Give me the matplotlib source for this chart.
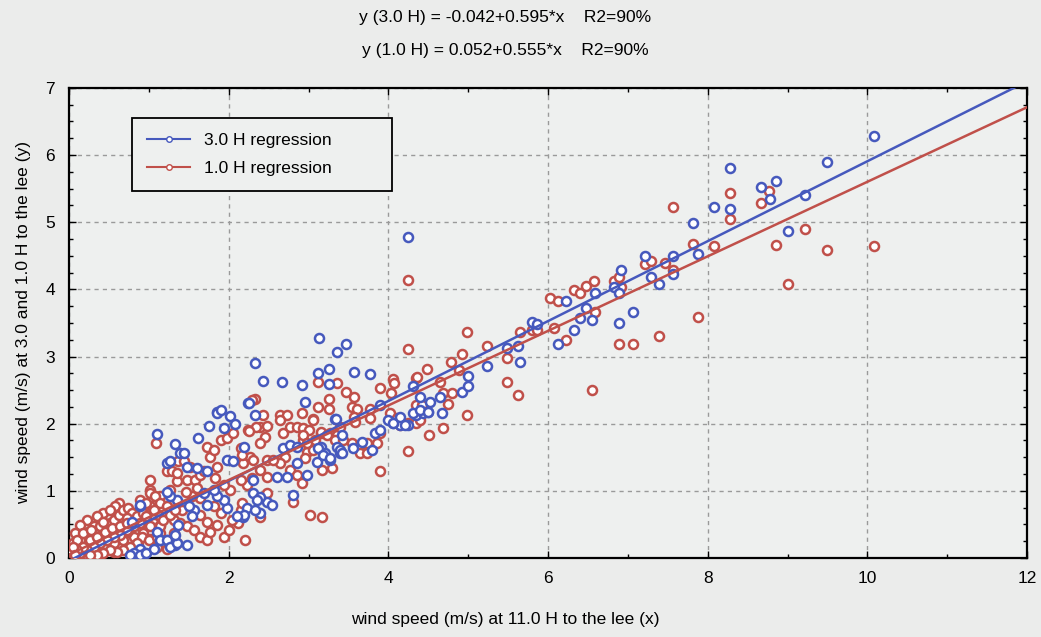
import numpy as np
import matplotlib

matplotlib.use('Agg')

import matplotlib.pyplot as plt
from matplotlib.lines import Line2D
from matplotlib.ticker import MultipleLocator

plt.rcParams['font.family'] = ['Liberation Sans Narrow', 'Liberation Sans', 'DejaVu Sans']

# 3.0 H to the lee (blue)
x3 = [7.82, 7.88, 8.08, 8.28, 8.28, 8.67, 8.78, 8.86, 9.01, 9.22, 9.49, 10.08,
      5.24, 5.49, 5.63, 5.65, 5.80, 5.86, 6.13, 6.22, 6.32, 6.40, 6.47, 6.55,
      6.59, 6.83, 6.89, 6.92, 6.89, 7.07, 7.21, 7.29, 7.39, 7.57, 7.57,
      4.24, 3.13, 3.36, 3.47, 3.26, 3.12, 3.57, 3.77, 2.92, 3.26, 2.96, 3.90,
      3.33, 4.31, 4.40, 4.52, 4.34, 4.44, 4.50, 4.67, 4.65, 4.92, 5.00, 5.00,
      4.15, 4.24, 4.06,
      2.33, 2.43, 2.67, 2.24, 1.85, 2.68, 2.77, 2.86, 2.98, 2.81, 2.86, 2.73,
      2.61, 2.48, 2.54, 2.31, 2.39, 2.23, 2.18, 2.39, 3.15, 3.21, 3.27, 3.40,
      3.36, 3.42, 3.11,
      3.12, 3.18, 3.27, 3.40, 3.42, 3.56, 3.67, 3.80, 3.83, 3.90, 4.00, 4.06,
      4.15, 4.21, 4.31, 4.40, 4.50, 3.35,
      1.10, 1.33, 1.39, 1.44, 1.23, 1.27, 1.62, 1.75, 1.85, 1.90, 2.02, 2.08,
      1.94, 2.33, 2.25, 1.73, 1.60, 1.48, 1.98, 2.06, 2.19, 2.31, 2.36, 2.33,
      2.19, 2.10, 1.98, 1.94, 1.85, 1.73, 1.56, 1.50, 1.35, 1.27, 0.89, 1.14,
      1.23, 1.48, 1.33, 0.89, 0.95, 0.81, 1.54, 1.69, 1.81,
      0.89, 0.79, 1.10, 1.14, 1.23, 1.27, 1.35, 0.77, 0.89, 0.97, 1.06, 1.33,
      1.37, 1.23]
y3 = [4.99, 4.53, 5.23, 5.80, 5.20, 5.53, 5.35, 5.62, 4.87, 5.41, 5.89, 6.29,
      2.86, 3.13, 3.16, 2.92, 3.52, 3.49, 3.19, 3.82, 3.40, 3.58, 3.73, 3.55,
      3.95, 4.04, 3.95, 4.29, 3.50, 3.67, 4.49, 4.19, 4.08, 4.49, 4.23,
      4.78, 3.28, 3.07, 3.19, 2.82, 2.76, 2.77, 2.74, 2.58, 2.59, 2.32, 2.28,
      2.07, 2.56, 2.40, 2.33, 2.13, 2.16, 2.18, 2.16, 2.40, 2.47, 2.71, 2.56,
      1.98, 1.98, 2.01,
      2.91, 2.64, 2.62, 2.31, 2.18, 1.64, 1.68, 1.65, 1.24, 0.94, 1.42, 1.21,
      1.21, 0.83, 0.79, 0.97, 0.91, 0.75, 0.61, 0.67, 1.65, 1.56, 1.46, 1.56,
      1.65, 1.83, 1.43,
      1.64, 1.54, 1.49, 1.61, 1.56, 1.64, 1.73, 1.61, 1.86, 1.91, 2.06, 2.01,
      2.10, 1.98, 2.16, 2.21, 2.18, 2.07,
      1.85, 1.70, 1.56, 1.56, 1.42, 1.44, 1.79, 1.96, 2.16, 2.20, 2.11, 1.99,
      1.94, 2.13, 2.31, 1.29, 1.34, 1.36, 1.46, 1.44, 1.66, 1.16, 0.87, 0.72,
      0.64, 0.62, 0.74, 0.87, 0.92, 0.79, 0.72, 0.77, 0.87, 0.92, 0.77, 0.27,
      0.27, 0.19, 0.19, 0.14, 0.07, 0.07, 0.62, 0.97, 1.01,
      0.79, 0.54, 0.39, 0.27, 0.27, 0.17, 0.22, 0.04, 0.04, 0.07, 0.14, 0.34,
      0.49, 0.99]

# 1.0 H to the lee (red)
x1 = [7.82, 7.88, 8.08, 8.28, 8.28, 8.67, 8.77, 8.86, 9.01, 9.22, 9.49, 10.08,
      5.23, 5.49, 5.49, 5.63, 5.65, 5.80, 5.86, 6.03, 6.13, 6.07, 6.22, 6.32,
      6.40, 6.47, 6.57, 6.59, 6.55, 6.83, 6.89, 6.92, 6.89, 7.07, 7.21, 7.29,
      7.39, 7.46, 7.57, 7.57,
      4.25, 4.25, 4.99, 4.92, 4.79, 4.49, 4.89, 4.34, 4.36, 4.06, 4.07, 3.90,
      4.03, 4.65, 4.69, 4.80, 4.75, 4.99, 4.69, 4.51, 4.24, 3.90, 3.36, 3.47,
      3.57, 3.26, 3.12, 3.12, 3.26, 3.55, 3.61, 3.77, 2.92, 3.06, 3.57,
      2.33, 2.29, 2.43, 2.64, 2.73, 2.64, 2.39, 2.48, 2.24, 2.34, 2.46, 2.39,
      2.68, 2.77, 2.86, 2.93, 3.06, 3.15, 3.27, 3.36, 2.93, 3.08, 2.98, 2.71,
      2.64, 2.48, 2.56, 2.27, 2.18, 2.39, 2.48, 2.29, 2.77, 2.86, 2.92, 2.81,
      3.02, 3.17, 2.48, 2.39, 2.12,
      3.00, 2.93, 2.98, 3.15, 3.23, 3.06, 2.96, 3.17, 3.30, 3.33, 3.43, 3.55,
      3.65, 3.73, 3.86, 3.65, 3.73, 3.40, 3.58, 3.77, 3.90, 4.02, 4.11, 4.15,
      4.24, 4.34, 4.40, 4.34, 4.42,
      1.09, 1.23, 1.29, 1.37, 1.44, 1.52, 1.48, 1.58, 1.64, 1.69, 1.35, 1.27,
      1.14, 1.02, 1.10, 1.02, 0.89, 0.72, 0.62, 0.56, 0.43, 0.35, 0.22, 0.14,
      0.08, 0.05, 0.08, 0.18, 0.26, 0.35, 0.43, 0.51, 0.62, 0.72, 0.81, 0.89,
      0.97, 1.06, 1.14, 1.23, 1.31, 1.39, 1.48, 1.56, 1.64, 1.73, 1.77, 1.94,
      2.00, 2.04, 2.15, 2.17, 2.23, 2.15, 2.02, 1.94, 1.83, 1.85, 1.77, 1.73,
      1.81, 1.90, 1.98, 2.06, 2.15, 2.17, 2.25, 2.31, 2.21, 1.14, 0.93, 0.81,
      0.68, 0.56, 0.43, 0.31, 0.39, 0.56, 0.72, 0.87, 1.02, 1.14, 1.31, 1.35,
      1.23, 1.10, 0.64, 0.72, 0.51, 0.24, 0.31, 0.14, 0.03, 0.12, 0.22, 0.85,
      0.95, 1.18, 1.41, 1.64, 1.73, 1.85, 1.90, 1.81, 1.64, 1.54, 1.46, 1.60,
      1.35, 1.02,
      0.10, 0.18, 0.28, 0.39, 0.43, 0.56, 0.62, 0.58, 0.51, 0.68, 0.74, 0.79,
      0.72, 0.85, 0.93, 0.89, 0.81, 0.72, 0.64, 0.56, 0.47, 0.39, 0.31, 0.22,
      0.14, 0.26, 0.35, 0.45, 0.54, 0.64, 0.72, 0.97, 1.02, 1.08, 1.14, 1.23,
      1.06, 0.97, 0.91, 1.00, 1.10, 1.14, 1.18, 1.27, 1.33, 1.02, 0.85, 0.77,
      0.68, 0.60, 0.51, 0.43, 0.35, 0.26, 0.18, 0.10, 0.05, 0.08]
y1 = [4.68, 3.59, 4.64, 5.44, 5.05, 5.29, 5.47, 4.66, 4.08, 4.90, 4.58, 4.64,
      3.16, 2.98, 2.62, 2.42, 3.37, 3.40, 3.40, 3.87, 3.82, 3.43, 3.25, 3.99,
      3.95, 4.05, 4.13, 3.67, 2.50, 4.13, 4.19, 4.04, 3.19, 3.19, 4.38, 4.43,
      3.31, 4.40, 4.29, 5.23,
      4.14, 3.11, 3.37, 3.04, 2.92, 2.82, 2.80, 2.68, 2.70, 2.67, 2.61, 2.53,
      2.46, 2.62, 2.46, 2.46, 2.29, 2.13, 1.94, 1.83, 1.59, 1.30, 2.61, 2.47,
      2.40, 2.37, 2.62, 2.25, 2.22, 2.25, 2.22, 2.22, 2.16, 2.07, 2.10,
      2.37, 2.35, 2.13, 2.13, 2.13, 2.06, 1.95, 1.97, 1.91, 1.95, 1.80, 1.71,
      1.86, 1.95, 1.95, 1.94, 2.06, 1.86, 1.86, 1.83, 1.76, 1.76, 1.58, 1.51,
      1.42, 1.46, 1.46, 1.51, 1.42, 1.31, 1.21, 1.19, 1.31, 1.24, 1.12, 0.83,
      0.64, 0.61, 0.97, 0.61, 0.52,
      1.91, 1.83, 1.71, 1.88, 1.83, 1.61, 1.49, 1.31, 1.34, 1.76, 1.76, 1.71,
      1.68, 1.71, 1.71, 1.56, 1.56, 1.95, 2.03, 2.09, 1.86, 2.16, 2.09, 1.98,
      2.01, 2.01, 2.06, 2.28, 2.28,
      1.72, 1.30, 1.30, 1.44, 1.45, 1.36, 1.16, 1.16, 1.24, 1.29, 1.14, 1.01,
      0.92, 1.01, 0.82, 0.77, 0.87, 0.72, 0.82, 0.72, 0.67, 0.62, 0.57, 0.49,
      0.37, 0.22, 0.09, 0.14, 0.22, 0.32, 0.42, 0.52, 0.59, 0.59, 0.52, 0.47,
      0.57, 0.52, 0.62, 0.64, 0.57, 0.52, 0.47, 0.42, 0.32, 0.27, 0.39, 0.32,
      0.42, 0.57, 0.72, 0.82, 1.09, 1.16, 1.01, 1.09, 1.19, 1.36, 1.51, 1.66,
      1.61, 1.76, 1.79, 1.86, 1.64, 1.54, 1.89, 1.46, 0.27, 0.49, 0.37, 0.32,
      0.27, 0.22, 0.27, 0.14, 0.07, 0.09, 0.14, 0.22, 0.29, 0.37, 0.37, 0.22,
      0.14, 0.17, 0.42, 0.39, 0.37, 0.39, 0.47, 0.27, 0.09, 0.04, 0.04, 0.69,
      0.69, 0.74, 0.72, 0.64, 0.54, 0.49, 0.67, 0.77, 0.89, 0.92, 0.99, 1.04,
      1.26, 1.16,
      0.27, 0.37, 0.42, 0.47, 0.54, 0.57, 0.64, 0.77, 0.72, 0.72, 0.74, 0.67,
      0.59, 0.62, 0.67, 0.52, 0.47, 0.42, 0.34, 0.32, 0.27, 0.22, 0.17, 0.12,
      0.07, 0.27, 0.32, 0.39, 0.44, 0.47, 0.52, 0.82, 0.97, 0.92, 0.82, 0.77,
      0.72, 0.62, 0.32, 0.27, 0.32, 0.47, 0.57, 0.64, 0.72, 0.47, 0.22, 0.17,
      0.12, 0.09, 0.12, 0.07, 0.04, 0.04, 0.17, 0.12, 0.17, 0.04]

# regression coefficients (intercept, slope)
fit3 = (-0.042, 0.595)
fit1 = (0.052, 0.555)

blue = '#4659bd'
red = '#c0504a'
bg = '#ebeceb'

fig = plt.figure(figsize=(10.41, 6.37), dpi=100, facecolor=bg)
ax = fig.add_axes([0.0663, 0.124, 0.9203, 0.738], facecolor='#eef0ef')

ax.plot(x1, y1, 'o', ms=6.5, mfc='white', mec=red, mew=1.8, zorder=3)
ax.plot(x3, y3, 'o', ms=6.5, mfc='white', mec=blue, mew=1.8, zorder=3)

xx = np.array([0, 12])
ax.plot(xx, fit3[0] + fit3[1] * xx, color=blue, lw=1.8, zorder=4)
ax.plot(xx, fit1[0] + fit1[1] * xx, color=red, lw=1.8, zorder=4)

ax.set_xlim(0, 12)
ax.set_ylim(0, 7)
ax.xaxis.set_major_locator(MultipleLocator(2))
ax.xaxis.set_minor_locator(MultipleLocator(1))
ax.yaxis.set_major_locator(MultipleLocator(1))
ax.yaxis.set_minor_locator(MultipleLocator(0.25))
ax.tick_params(which='both', direction='in', top=True, right=True, labelsize=12.5)
ax.tick_params(axis='x', pad=9)
ax.tick_params(axis='y', pad=10)
ax.tick_params(which='major', length=5, width=1)
ax.tick_params(which='minor', length=3, width=1)
ax.grid(True, which='major', color='#9a9a9a', linestyle=(0, (3, 3)), lw=1)
for s in ax.spines.values():
    s.set_linewidth(1.6)

ax.set_xlabel('wind speed (m/s) at 11.0 H to the lee (x)', fontsize=12.5)
ax.set_ylabel('wind speed (m/s) at 3.0 and 1.0 H to the lee (y)', fontsize=12.5)
ax.xaxis.set_label_coords(0.455, -0.115)
ax.yaxis.set_label_coords(-0.04, 0.5)

fig.text(0.485, 0.973, 'y (3.0 H) = -0.042+0.595*x    R2=90%', ha='center', va='center', fontsize=12.5)
fig.text(0.485, 0.921, 'y (1.0 H) = 0.052+0.555*x    R2=90%', ha='center', va='center', fontsize=12.5)

handles = [Line2D([], [], color=blue, lw=1.5, marker='o', ms=4, mfc='white', mec=blue),
           Line2D([], [], color=red, lw=1.5, marker='o', ms=4, mfc='white', mec=red)]
leg = ax.legend(handles, ['3.0 H regression', '1.0 H regression'],
                loc='upper left', bbox_to_anchor=(0.066, 0.936, 0.271, 0.0),
                mode='expand', borderaxespad=0, fontsize=12.5, fancybox=False,
                framealpha=1, facecolor='#eef0ef', edgecolor='black', borderpad=0.85,
                labelspacing=0.75, handlelength=2.5, numpoints=1)
leg.get_frame().set_linewidth(1.3)

plt.savefig('out.png', dpi=100, facecolor=bg)
